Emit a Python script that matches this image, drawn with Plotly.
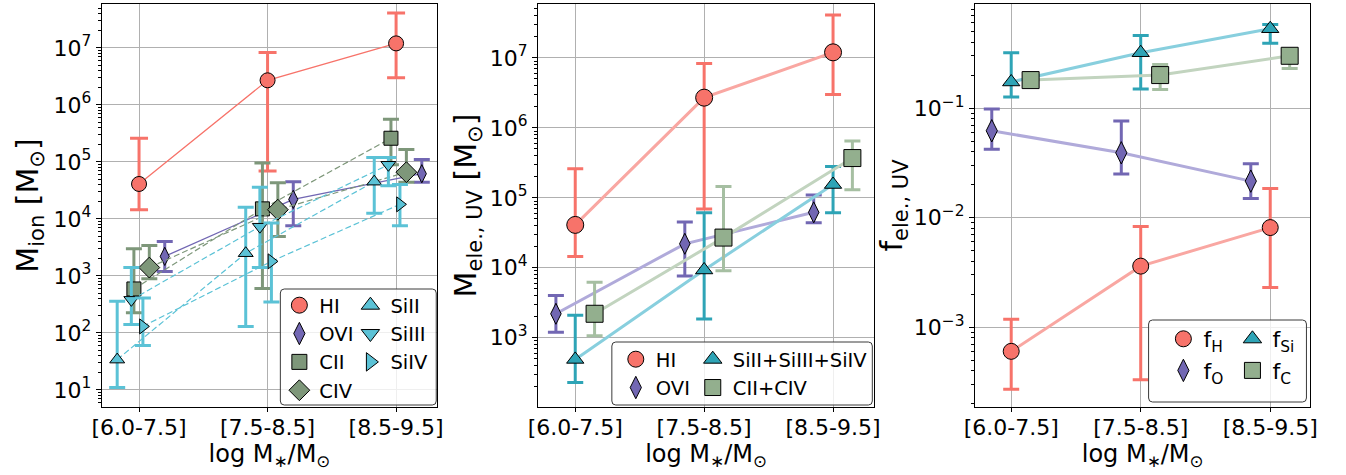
import plotly.graph_objects as go

W, H = 1346, 475
FONT = "DejaVu Sans"

categories = ["[6.0-7.5]", "[7.5-8.5]", "[8.5-9.5]"]
xpos = [0, 1, 2]

# ---------- Panel 1: ion masses ----------
HI_val = [4.1e4, 2.7e6, 1.2e7]
HI_lo = [1.45e4, 6.9e4, 3.0e6]
HI_hi = [2.6e5, 8.3e6, 4.1e7]

OVI_val = [2.2e3, 2.2e4, 6.2e4]
OVI_lo = [1.2e3, 7.6e3, 4.4e4]
OVI_hi = [4.0e3, 4.5e4, 1.1e5]

CII_val = [590, 1.5e4, 2.6e5]
CII_lo = [225, 600, 8.9e4]
CII_hi = [3.0e3, 9.6e4, 5.6e5]

CIV_val = [1.4e3, 1.45e4, 6.6e4]
CIV_lo = [890, 4.9e3, 4.4e4]
CIV_hi = [3.4e3, 4.3e4, 1.65e5]

SiII_val = [34, 2.5e3, 4.5e4]
SiII_lo = [11, 130, 1.26e4]
SiII_hi = [360, 1.6e4, 1.2e5]

SiIII_val = [380, 7.3e3, 8.9e4]
SiIII_lo = [140, 1.4e3, 3.8e4]
SiIII_hi = [1.4e3, 3.6e4, 1.2e5]

SiIV_val = [130, 1.8e3, 1.8e4]
SiIV_lo = [60, 350, 7.6e3]
SiIV_hi = [410, 8.5e3, 4.0e4]

# ---------- Panel 2: element masses ----------
Si_sum_val = [490, 9.3e3, 1.55e5]
Si_sum_lo = [230, 1.85e3, 6.1e4]
Si_sum_hi = [2.1e3, 6.1e4, 2.8e5]

C_sum_val = [2.2e3, 2.7e4, 3.7e5]
C_sum_lo = [1.07e3, 9.1e3, 1.3e5]
C_sum_hi = [6.2e3, 1.45e5, 6.5e5]

# ---------- Panel 3: fractions ----------
fH_val = [6.0e-4, 3.6e-3, 8.1e-3]
fH_lo = [2.7e-4, 3.3e-4, 2.3e-3]
fH_hi = [1.18e-3, 8.3e-3, 1.84e-2]

fO_val = [0.062, 0.039, 0.0215]
fO_lo = [0.042, 0.025, 0.0149]
fO_hi = [0.098, 0.076, 0.031]

fSi_val = [0.173, 0.32, 0.53]
fSi_lo = [0.126, 0.149, 0.39]
fSi_hi = [0.32, 0.46, 0.58]

fC_val = [0.18, 0.20, 0.30]
fC_lo = [0.17, 0.148, 0.23]
fC_hi = [0.19, 0.25, 0.33]

y1_exps = [1, 2, 3, 4, 5, 6, 7]
y2_exps = [3, 4, 5, 6, 7]
y3_exps = [-3, -2, -1]

# colours
C_H = "#F7736A"
C_O = "#7267B3"
C_C = "#7E977A"
C_SI = "#5BC2D6"
C_SI2 = "#2EA4B6"
C_C2 = "#93AF8E"
C_C2E = "#A6BFA2"
L_H = "#F9A7A2"
L_O = "#B0AADA"
L_SI = "#88CFDE"
L_C = "#C2D4BF"

fig = go.Figure()


def add_series(ax, offset, val, lo, hi, name, symbol, size, color, ecolor,
               lcolor, lwidth, dash, legend, capw=8, ethick=3, legsize=16):
    xs = [x + offset for x in xpos]
    fig.add_trace(go.Scatter(
        x=xs, y=val, mode="lines", xaxis="x" + ax, yaxis="y" + ax,
        line=dict(color=lcolor, width=lwidth, dash=dash),
        showlegend=False, hoverinfo="skip"))
    fig.add_trace(go.Scatter(
        x=xs, y=val, mode="markers", xaxis="x" + ax, yaxis="y" + ax,
        name=name, showlegend=False,
        marker=dict(symbol=symbol, size=size, color=color,
                    line=dict(color="black", width=1)),
        error_y=dict(type="data", symmetric=False,
                     array=[h - v for h, v in zip(hi, val)],
                     arrayminus=[v - l for v, l in zip(val, lo)],
                     color=ecolor, thickness=ethick, width=capw)))
    # legend entry (larger symbol, like the reference legend)
    fig.add_trace(go.Scatter(
        x=[None], y=[None], mode="markers", xaxis="x" + ax, yaxis="y" + ax,
        name=name, legend=legend, showlegend=True, hoverinfo="skip",
        marker=dict(symbol=symbol, size=legsize, color=color,
                    line=dict(color="black", width=1))))


DASH = "6px,3px"
# panel 1 (left)
add_series("", 0.0, HI_val, HI_lo, HI_hi, "HI", "circle", 15, C_H, C_H, C_H, 1.3, "solid", "legend", capw=9)
add_series("", 0.2, OVI_val, OVI_lo, OVI_hi, "OVI", "diamond-tall", 13, C_O, C_O, C_O, 1.3, "solid", "legend")
add_series("", -0.04, CII_val, CII_lo, CII_hi, "CII", "square", 14, C_C, C_C, C_C, 1.2, DASH, "legend", legsize=15)
add_series("", 0.08, CIV_val, CIV_lo, CIV_hi, "CIV", "diamond", 16, C_C, C_C, C_C, 1.2, DASH, "legend")
add_series("", -0.17, SiII_val, SiII_lo, SiII_hi, "SiII", "triangle-up", 13, C_SI, C_SI, C_SI, 1.2, DASH, "legend2")
add_series("", -0.06, SiIII_val, SiIII_lo, SiIII_hi, "SiIII", "triangle-down", 13, C_SI, C_SI, C_SI, 1.2, DASH, "legend2")
add_series("", 0.03, SiIV_val, SiIV_lo, SiIV_hi, "SiIV", "triangle-right", 13, C_SI, C_SI, C_SI, 1.2, DASH, "legend2")

# panel 2 (middle)
add_series("2", 0.0, HI_val, HI_lo, HI_hi, "HI", "circle", 17, C_H, C_H, L_H, 3, "solid", "legend3")
add_series("2", -0.15, OVI_val, OVI_lo, OVI_hi, "OVI", "diamond-tall", 15, C_O, C_O, L_O, 3, "solid", "legend3")
add_series("2", 0.0, Si_sum_val, Si_sum_lo, Si_sum_hi, "SiII+SiIII+SiIV", "triangle-up", 15, C_SI2, C_SI2, L_SI, 3, "solid", "legend4")
add_series("2", 0.15, C_sum_val, C_sum_lo, C_sum_hi, "CII+CIV", "square", 17, C_C2, C_C2E, L_C, 3, "solid", "legend4")

# panel 3 (right)
add_series("3", 0.0, fH_val, fH_lo, fH_hi, "f<sub>H</sub>", "circle", 16, C_H, C_H, L_H, 3, "solid", "legend5")
add_series("3", -0.15, fO_val, fO_lo, fO_hi, "f<sub>O</sub>", "diamond-tall", 16, C_O, C_O, L_O, 3, "solid", "legend5")
add_series("3", 0.0, fSi_val, fSi_lo, fSi_hi, "f<sub>Si</sub>", "triangle-up", 15, C_SI2, C_SI2, L_SI, 3, "solid", "legend6")
add_series("3", 0.15, fC_val, fC_lo, fC_hi, "f<sub>C</sub>", "square", 17, C_C2, C_C2E, L_C, 3, "solid", "legend6")


def px(x):
    return x / W


def py(y):
    return 1 - y / H


def sup(k):
    s = str(k).replace("-", "\u2212")
    return "10<sup>" + s + "</sup>"


def minors(exps):
    lo, hi = min(exps) - 1, max(exps) + 1
    out = []
    for k in range(lo, hi + 1):
        for m in range(2, 10):
            out.append(m * 10.0 ** k)
    return out


tick_font = dict(family=FONT, size=22, color="black")
xtitle = "log M<sub>\u2217</sub>/M<sub>\u2299</sub>"

domains_x = [(92, 432), (534, 875), (977, 1317)]
yranges = [(0.70, 7.77), (2.01, 7.77), (-3.73, -0.05)]
yexps = [y1_exps, y2_exps, y3_exps]
ytitles = ["M<sub>ion</sub> [M<sub>\u2299</sub>]",
           "M<sub>ele., UV</sub> [M<sub>\u2299</sub>]",
           "f<sub>ele., UV</sub>"]
ystandoffs = [6, 4, 2]
xranges = [(-0.29, 2.32), (-0.29, 2.32), (-0.28, 2.31)]

layout = dict(
    width=W, height=H, margin=dict(l=0, r=0, t=0, b=0),
    paper_bgcolor="white", plot_bgcolor="white",
    font=dict(family=FONT, size=22, color="black"),
)
for i in range(3):
    sfx = "" if i == 0 else str(i + 1)
    layout["xaxis" + sfx] = dict(
        domain=[px(domains_x[i][0]), px(domains_x[i][1])],
        range=list(xranges[i]), anchor="y" + sfx,
        tickmode="array", tickvals=xpos, ticktext=categories,
        showgrid=True, gridcolor="#b0b0b0", gridwidth=1,
        showline=True, linecolor="black", linewidth=1, mirror=True,
        ticks="outside", ticklen=4, tickcolor="black", tickfont=tick_font,
        ticklabelstandoff=-3,
        zeroline=False,
        title=dict(text=xtitle, font=dict(family=FONT, size=24), standoff=0),
    )
    layout["yaxis" + sfx] = dict(
        domain=[py(407), py(4)], type="log", range=list(yranges[i]),
        anchor="x" + sfx,
        tickmode="array", tickvals=[10.0 ** k for k in yexps[i]],
        ticktext=[sup(k) for k in yexps[i]],
        showgrid=True, gridcolor="#b0b0b0", gridwidth=1,
        showline=True, linecolor="black", linewidth=1, mirror=True,
        ticks="outside", ticklen=5, tickcolor="black", tickfont=tick_font,
        minor=dict(tickmode="array", tickvals=minors(yexps[i]), ticks="outside",
                   ticklen=2.5, tickcolor="black", showgrid=False),
        zeroline=False,
        title=dict(text=ytitles[i], font=dict(family=FONT, size=30),
                   standoff=ystandoffs[i]),
    )


def leg(x, y, size=19.5):
    return dict(x=px(x), y=py(y), xanchor="left", yanchor="top",
                bgcolor="rgba(0,0,0,0)", borderwidth=0,
                font=dict(family=FONT, size=size, color="black"),
                itemsizing="trace", tracegroupgap=0, traceorder="normal")


layout["legend"] = leg(272, 286)
layout["legend2"] = leg(344, 286)
layout["legend3"] = leg(613, 340)
layout["legend4"] = leg(691, 340)
layout["legend5"] = leg(1168, 318, 22)
layout["legend6"] = leg(1238, 318, 22)


def rbox(x0, y0, x1, y1, r=4):
    X0, X1 = px(x0), px(x1)
    Y0, Y1 = py(y0), py(y1)
    rx, ry = r / W, r / H
    p = (f"M{X0 + rx},{Y0} L{X1 - rx},{Y0} Q{X1},{Y0} {X1},{Y0 - ry} "
         f"L{X1},{Y1 + ry} Q{X1},{Y1} {X1 - rx},{Y1} L{X0 + rx},{Y1} "
         f"Q{X0},{Y1} {X0},{Y1 + ry} L{X0},{Y0 - ry} Q{X0},{Y0} {X0 + rx},{Y0} Z")
    return dict(type="path", path=p, xref="paper", yref="paper",
                line=dict(color="#3a3a3a", width=1),
                fillcolor="rgba(255,255,255,0.8)", layer="above")


layout["shapes"] = [rbox(273, 289, 431, 405), rbox(609, 342, 873, 405),
                    rbox(1153, 320, 1313, 402)]

fig.update_layout(**layout)
fig.write_html("out.html")
